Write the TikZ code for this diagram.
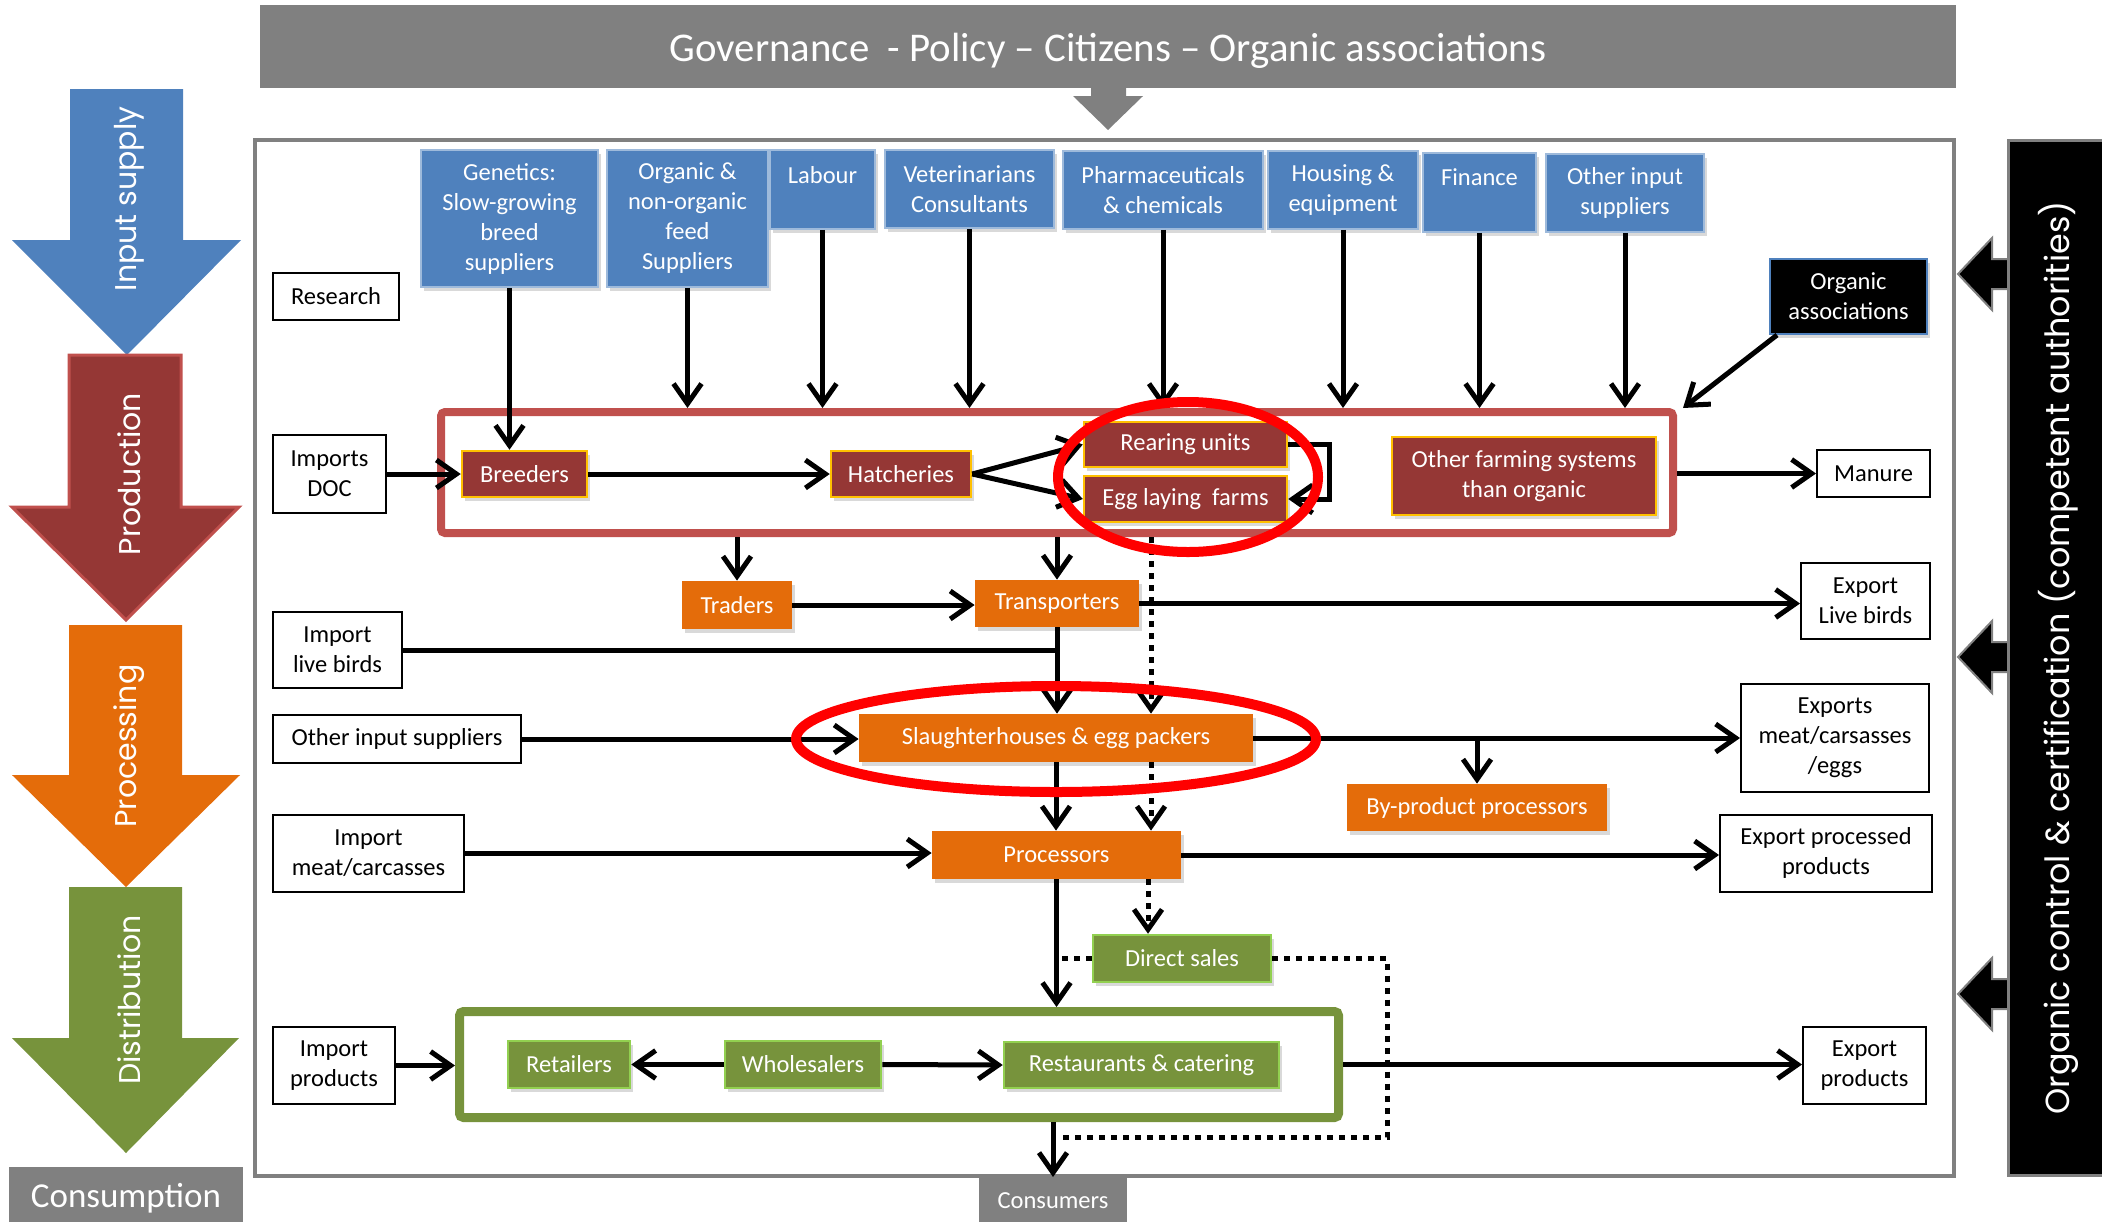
\documentclass[tikz,border=0pt]{standalone}
\usepackage{fontspec}
\setmainfont{Carlito}
\newfontfamily\geofont{Poppins}
\usepackage{tikz}
\usetikzlibrary{arrows.meta,shadows}

\definecolor{blu}{HTML}{4F81BD}
\definecolor{darkred}{HTML}{953735}
\definecolor{framered}{HTML}{C0504D}
\definecolor{gold}{HTML}{FFC000}
\definecolor{orng}{HTML}{E46C0A}
\definecolor{grn}{HTML}{77933C}
\definecolor{lgrn}{HTML}{92D050}
\definecolor{gry}{HTML}{808080}

\tikzset{
  wh/.style 2 args={minimum width=#1*0.5pt,minimum height=#2*0.5pt},
  shad/.style={drop shadow={opacity=0.3,shadow xshift=1.5pt,shadow yshift=-2pt}},
  box/.style={inner sep=0pt,align=center,font=\fontsize{12.25}{15}\selectfont},
  inbox/.style={box,fill=blu,draw=blu!55!white,line width=0.75pt,text=white,shad},
  prodbox/.style={box,fill=darkred,draw=gold,line width=1.25pt,text=white,shad},
  procbox/.style={box,fill=orng,text=white,shad},
  distbox/.style={box,fill=grn,draw=lgrn,line width=1.25pt,text=white,shad},
  extbox/.style={box,draw=black,line width=1pt,fill=white},
  stagelabel/.style={rotate=90,text=white,font=\geofont\fontsize{15}{18}\selectfont},
  link/.style={line width=2.5pt,-{Straight Barb[length=10pt,width=14pt]}},
  plain/.style={line width=2.5pt},
  dots/.style={line width=2.5pt,dash pattern=on 3pt off 3pt},
  dotlink/.style={dots,-{Straight Barb[length=10pt,width=14pt]}},
}

\begin{document}
\begin{tikzpicture}[x=0.5pt,y=-0.5pt]
  \useasboundingbox (0,0) rectangle (2102,1221);

  % stages on the left
  \fill[blu] (70,89) -- (183,89) -- (183,240) -- (241,240) -- (127,355) -- (12,240) -- (70,240) -- cycle;
  \filldraw[fill=darkred,draw=framered,line width=1.5pt] (69,355) -- (181,355) -- (181,507) -- (239,507) -- (126,620) -- (12,507) -- (69,507) -- cycle;
  \fill[orng] (69,625) -- (182,625) -- (182,775) -- (240,775) -- (126,887) -- (12,775) -- (69,775) -- cycle;
  \fill[grn] (69,887) -- (182,887) -- (182,1038) -- (239,1038) -- (126,1153) -- (12,1038) -- (69,1038) -- cycle;
  \node[stagelabel] (lblinput) at (129,199) {Input supply};
  \node[stagelabel] (lblprod) at (129,474) {Production};
  \node[stagelabel] (lblproc) at (129,746) {Processing};
  \node[stagelabel] (lbldist) at (129,1000) {Distribution};
  \node[fill=gry,text=white,wh={234}{62},font=\fontsize{17.5}{20}\selectfont] (consumption) at (126,1198) {Consumption};

  % governance banner
  \node[fill=gry,wh={1696}{83}] (gov) at (1108,46.5) {};
  \node[text=white,font=\fontsize{20.4}{24}\selectfont] (govtext) at (1108,51) {Governance\ \ - Policy -- Citizens -- Organic associations};
  \fill[gry] (1091,87) -- (1126,87) -- (1126,96) -- (1143,96) -- (1108,130) -- (1073,96) -- (1091,96) -- cycle;

  % main frame
  \draw[gry,line width=2pt] (255,140) rectangle (1954,1176);

  % control bar on the right
  \filldraw[fill=black,draw=gry,line width=1.5pt] (2008,140) rectangle (2115,1175);
  \node[stagelabel,font=\geofont\fontsize{16.7}{20}\selectfont] (lblctrl) at (2058,658) {Organic control \& certification (competent authorities)};
  \foreach \y in {274,657,994}
    \filldraw[fill=black,draw=gry,line width=1pt] (2008,\y-15) -- (1992,\y-15) -- (1992,\y-36) -- (1958,\y) -- (1992,\y+36) -- (1992,\y+15) -- (2008,\y+15) -- cycle;

  % input suppliers
  \node[inbox,wh={177}{137}] (gen) at (509.5,218.5) {Genetics:\\Slow-growing\\breed\\suppliers};
  \node[inbox,wh={161}{137}] (feed) at (687.5,218.5) {Organic \&\\non-organic\\feed\\Suppliers};
  \node[inbox,wh={105}{79}] (lab) at (822.5,189.5) {Labour\\\phantom{L}};
  \node[inbox,wh={169}{78}] (vet) at (969.5,189) {Veterinarians\\Consultants};
  \node[inbox,wh={200}{78}] (pharm) at (1163,190) {Pharmaceuticals\\\& chemicals};
  \node[inbox,wh={150}{78}] (hous) at (1343,190) {Housing \&\\equipment};
  \node[inbox,wh={113}{79}] (fin) at (1479.5,192.5) {Finance\\\phantom{F}};
  \node[inbox,wh={158}{78}] (oth) at (1625,193) {Other input\\suppliers};
  \node[box,fill=black,draw=blu,line width=1pt,text=white,shad,wh={157}{75}] (orgassoc) at (1848.5,296.5) {Organic\\associations};

  % outside boxes
  \node[extbox,wh={126}{47}] (research) at (336,296.5) {Research};
  \node[extbox,wh={113}{78}] (impdoc) at (329.5,474) {Imports\\DOC};
  \node[extbox,wh={129}{76}] (implive) at (337.5,650) {Import\\live birds};
  \node[extbox,wh={248}{48}] (othin) at (397,739) {Other input suppliers};
  \node[extbox,wh={191}{77}] (impmeat) at (368.5,853) {Import\\meat/carcasses};
  \node[extbox,wh={122}{77}] (impprod) at (334,1065.5) {Import\\products};
  \node[extbox,wh={113}{47}] (manure) at (1873.5,473.5) {Manure};
  \node[extbox,wh={129}{76}] (explive) at (1865.5,601) {Export\\Live birds};
  \node[extbox,wh={188}{108}] (expmeat) at (1835,738) {Exports\\meat/carsasses\\/eggs};
  \node[extbox,wh={212}{77}] (expproc) at (1826,853) {Export processed\\products};
  \node[extbox,wh={123}{77}] (expprod) at (1864.5,1065.5) {Export\\products};

  % production
  \node[draw=framered,line width=4pt,rounded corners=2pt,wh={1232}{121}] (prodframe) at (1057,472.5) {};
  \node[prodbox,wh={125}{46}] (breed) at (524.5,474) {Breeders};
  \node[prodbox,wh={140}{46}] (hatch) at (901,474) {Hatcheries};
  \node[prodbox,wh={203}{45}] (rear) at (1185.5,444.5) {Rearing units};
  \node[prodbox,wh={203}{46}] (egg) at (1185.5,499) {Egg laying\ \ farms};
  \node[prodbox,wh={264}{78}] (othfarm) at (1524,476) {Other farming systems\\than organic};

  % processing
  \node[procbox,wh={110}{48}] (trad) at (737,605) {Traders};
  \node[procbox,wh={164}{47}] (trans) at (1057,603.5) {Transporters};
  \node[procbox,wh={394}{48}] (slau) at (1056,738) {Slaughterhouses \& egg packers};
  \node[procbox,wh={260}{47}] (byp) at (1477,807.5) {By-product processors};
  \node[procbox,wh={249}{48}] (proc) at (1056.5,855) {Processors};

  % distribution
  \node[draw=grn,line width=4.5pt,rounded corners=2pt,wh={879}{106}] (distframe) at (899,1064.5) {};
  \node[distbox,wh={178}{47}] (direct) at (1182,958.5) {Direct sales};
  \node[distbox,wh={122}{47}] (retail) at (569,1064.5) {Retailers};
  \node[distbox,wh={156}{47}] (whole) at (803,1064.5) {Wholesalers};
  \node[distbox,wh={275}{46}] (rest) at (1141.5,1065) {Restaurants \& catering};
  \node[box,fill=gry,text=white,wh={148}{46},anchor=north] (consumers) at (1053,1177) {Consumers};

  \coordinate (dtop) at (1151,537);
  \coordinate (dsink) at (1061,1137);

  % flows
  \draw[link] (gen.south) -- (gen.south |- breed.north);
  \foreach \s in {feed,lab,vet,pharm,hous,fin,oth}
    \draw[link] (\s.south) -- (\s.south |- prodframe.north);
  \draw[link] ([xshift=4pt]orgassoc.south west) -- ([xshift=3pt]prodframe.north east);
  \draw[link] (impdoc.east) -- (breed.west);
  \draw[link] (breed.east) -- (hatch.west);
  \draw[link] (hatch.east) -- (rear.west);
  \draw[link] (hatch.east) -- (egg.west);
  \draw[link] (rear.east) -- ++(41,0) |- (egg.east);
  \draw[link] (prodframe.east |- manure.west) -- (manure.west);
  \draw[link] (trad.north |- prodframe.south) -- (trad.north);
  \draw[link] (trans.north |- prodframe.south) -- (trans.north);
  \draw[link] (trad.east) -- (trad.east -| trans.west);
  \draw[link] (trans.east) -- (trans.east -| explive.west);
  \draw[plain] (implive.east) -- (implive.east -| trans.south);
  \draw[link] (trans.south) -- (trans.south |- slau.north);
  \draw[dotlink] (dtop) -- (dtop |- slau.north);
  \draw[dotlink] (dtop |- slau.south) -- (dtop |- proc.north);
  \draw[dotlink] ([xshift=-1.5pt]dtop |- proc.south) -- ([xshift=-1.5pt]dtop |- direct.north);
  \draw[link] (othin.east) -- (othin.east -| slau.west);
  \draw[link] (slau.east) -- (slau.east -| expmeat.west);
  \draw[link] (slau.east -| byp.north) -- (byp.north);
  \draw[link] (slau.south) -- (slau.south |- proc.north);
  \draw[link] (impmeat.east) -- (impmeat.east -| proc.west);
  \draw[link] (proc.east) -- (proc.east -| expproc.west);
  \draw[link] (proc.south) -- (proc.south |- distframe.north);
  \draw[dots] (direct.west) -- (direct.west -| proc.south);
  \draw[dots] (direct.east) -- ++(115,0) |- (dsink);
  \draw[link] (whole.west) -- (retail.east);
  \draw[link] (whole.east) -- (rest.west);
  \draw[link] (impprod.east) -- (impprod.east -| distframe.west);
  \draw[link] (distframe.east) -- (distframe.east -| expprod.west);
  \draw[link] (distframe.south -| consumers.north) -- (consumers.north);

  % highlights
  \draw[red,line width=5pt] (1188,477) ellipse [x radius=130,y radius=75];
  \draw[red,line width=5pt] (1056,739) ellipse [x radius=260,y radius=53];
\end{tikzpicture}
\end{document}
